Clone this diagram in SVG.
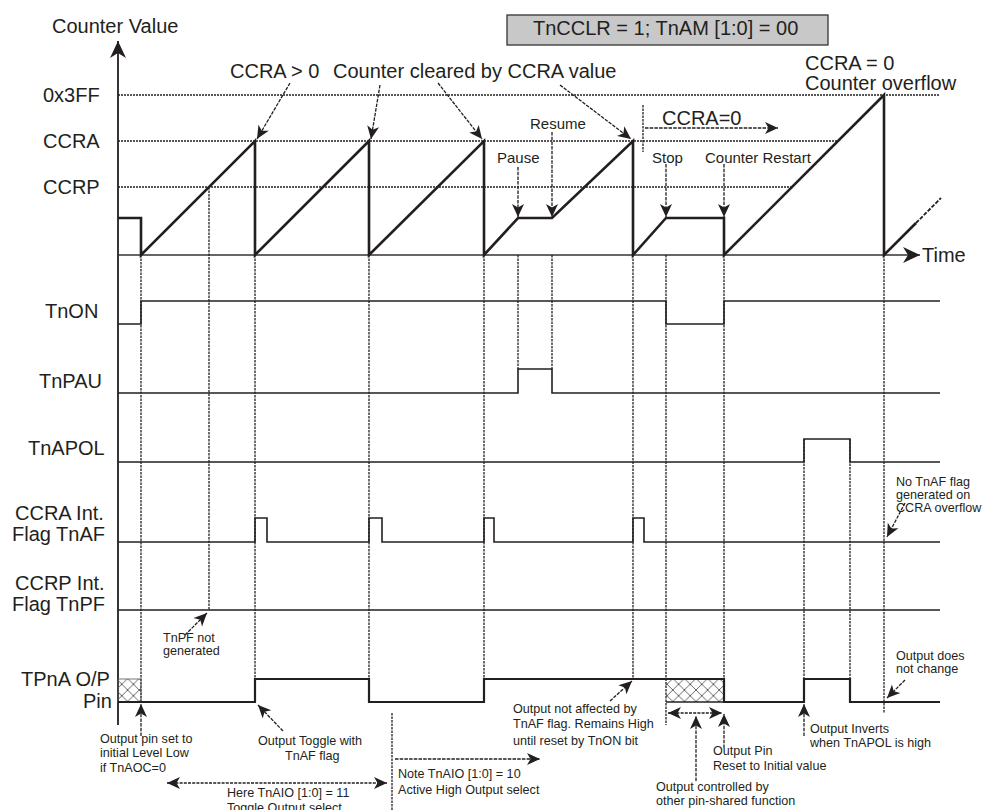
<svg xmlns="http://www.w3.org/2000/svg" width="982" height="810" viewBox="0 0 982 810">
<style>
text{font-family:"Liberation Sans",Arial,sans-serif;fill:#231f20}
.big{font-size:20px}
.med{font-size:15px}
.sm{font-size:12.6px}
.ref{stroke:#231f20;stroke-width:1.3;stroke-dasharray:2,1;fill:none}
.vd{stroke:#231f20;stroke-width:1.3;stroke-dasharray:2.5,1;fill:none}
.sig{stroke:#231f20;stroke-width:1.6;fill:none}
.cnt{stroke:#231f20;stroke-width:2.6;fill:none;stroke-linejoin:miter}
.ann{stroke:#231f20;stroke-width:1.3;stroke-dasharray:3.5,1.2;fill:none;marker-end:url(#ah)}
.dbl{stroke:#231f20;stroke-width:1.3;stroke-dasharray:3,1.2;fill:none;marker-end:url(#ah);marker-start:url(#ahs)}
</style>
<defs>
<marker id="ah" viewBox="-14 -7 15 14" refX="0" refY="0" markerWidth="15" markerHeight="14" markerUnits="userSpaceOnUse" orient="auto">
<path d="M0,0 L-13,-6 L-9.5,0 L-13,6 z" fill="#231f20"/>
</marker>
<marker id="ahs" viewBox="-14 -7 15 14" refX="0" refY="0" markerWidth="15" markerHeight="14" markerUnits="userSpaceOnUse" orient="auto-start-reverse">
<path d="M0,0 L-13,-6 L-9.5,0 L-13,6 z" fill="#231f20"/>
</marker>
<marker id="big" viewBox="-18 -9 19 18" refX="0" refY="0" markerWidth="19" markerHeight="18" markerUnits="userSpaceOnUse" orient="auto">
<path d="M0,0 L-17,-8 L-12,0 L-17,8 z" fill="#231f20"/>
</marker>
<pattern id="hatch" patternUnits="userSpaceOnUse" width="11.6" height="11.5">
<path d="M0,0 L11.6,11.5 M11.6,0 L0,11.5" stroke="#555" stroke-width="0.9"/>
</pattern>
</defs>

<g id="mode-box">
<rect x="507" y="15" width="321" height="30" fill="#c8c8c8" stroke="#333" stroke-width="1.3"/>
<text class="big" x="533" y="35">TnCCLR = 1; TnAM [1:0] = 00</text>
</g>

<g id="axes">
<line x1="118" y1="725" x2="118" y2="41" stroke="#231f20" stroke-width="1.8" marker-end="url(#big)"/>
<line x1="118" y1="255" x2="920" y2="255" stroke="#333" stroke-width="1.6" marker-end="url(#big)"/>
<text class="big" x="52" y="33">Counter Value</text>
<text class="big" x="922" y="262">Time</text>
</g>

<g id="reference-levels">
<line class="ref" x1="118" y1="95" x2="940" y2="95"/>
<line class="ref" x1="118" y1="141" x2="838" y2="141"/>
<line class="ref" x1="118" y1="187" x2="792" y2="187"/>
<text class="big" x="43" y="102">0x3FF</text>
<text class="big" x="43" y="148">CCRA</text>
<text class="big" x="43" y="194">CCRP</text>
</g>

<g id="signal-labels">
<text class="big" x="45" y="318">TnON</text>
<text class="big" x="39" y="388">TnPAU</text>
<text class="big" x="28" y="455">TnAPOL</text>
<text class="big" x="15" y="520">CCRA Int.</text>
<text class="big" x="12" y="541">Flag TnAF</text>
<text class="big" x="15" y="590">CCRP Int.</text>
<text class="big" x="12" y="611">Flag TnPF</text>
<text class="big" x="21" y="686">TPnA O/P</text>
<text class="big" x="83" y="708">Pin</text>
</g>

<g id="time-markers">
<line class="vd" x1="141" y1="255" x2="141" y2="702"/>
<line class="vd" x1="209" y1="187" x2="209" y2="610"/>
<line class="vd" x1="255" y1="255" x2="255" y2="679"/>
<line class="vd" x1="369" y1="255" x2="369" y2="679"/>
<line class="vd" x1="484" y1="255" x2="484" y2="679"/>
<line class="vd" x1="518" y1="255" x2="518" y2="369"/>
<line class="vd" x1="552" y1="255" x2="552" y2="369"/>
<line class="vd" x1="633" y1="255" x2="633" y2="679"/>
<line class="vd" x1="666" y1="255" x2="666" y2="725"/>
<line class="vd" x1="724" y1="255" x2="724" y2="679"/>
<line class="vd" x1="804" y1="439" x2="804" y2="679"/>
<line class="vd" x1="850" y1="439" x2="850" y2="702"/>
<line class="vd" x1="884" y1="255" x2="884" y2="713"/>
<line class="vd" x1="392" y1="713" x2="392" y2="810"/>
<line class="vd" x1="643" y1="105" x2="643" y2="152"/>
</g>

<g id="counter">
<path class="cnt" d="M118,218 H141 V255 L255,141 V255 L369,141 V255 L484,141 V255 L518,218 H552 L633,141 V255 L666,218 H724 V255 L884,95 V255 L916,223"/>
<path d="M916,223 L941,198" stroke="#231f20" stroke-width="1.8" stroke-dasharray="4,1.5" fill="none"/>
</g>

<g id="signals">
<path class="sig" d="M118,324 H141 V301 H666 V324 H724 V301 H940"/>
<path class="sig" d="M118,393 H518 V369 H552 V393 H940"/>
<path class="sig" d="M118,462 H804 V439 H850 V462 H940"/>
<path class="sig" d="M118,542 H255 V518 H267 V542 H369 V518 H382 V542 H484 V518 H494 V542 H633 V518 H644 V542 H940"/>
<path class="sig" d="M118,610 H940"/>
<rect x="118" y="679" width="23" height="23" fill="url(#hatch)" stroke="#555" stroke-width="0.8"/>
<rect x="666" y="679" width="58" height="23" fill="url(#hatch)" stroke="none"/>
<line x1="666" y1="702" x2="724" y2="702" stroke="#231f20" stroke-width="1.6"/>
<path d="M118,702 H255 V679 H369 V702 H484 V679 H724 V702 H804 V679 H850 V702 H940" stroke="#231f20" stroke-width="2.2" fill="none"/>
</g>

<g id="connectors">
<line class="ann" x1="290" y1="83" x2="257" y2="139"/>
<line class="ann" x1="380" y1="85" x2="371" y2="139"/>
<line class="ann" x1="438" y1="83" x2="482" y2="139"/>
<line class="ann" x1="560" y1="85" x2="631" y2="139"/>
<line class="ann" x1="518" y1="167" x2="518" y2="217"/>
<line class="ann" x1="552" y1="132" x2="552" y2="217"/>
<line class="ann" x1="666" y1="164" x2="666" y2="217"/>
<line class="ann" x1="724" y1="164" x2="724" y2="217"/>
<line class="ann" x1="645" y1="128" x2="778" y2="128"/>
<line class="ann" x1="185" y1="635" x2="207" y2="613"/>
<line class="ann" x1="141" y1="736" x2="141" y2="704"/>
<line class="ann" x1="283" y1="731" x2="258" y2="705"/>
<line class="dbl" x1="167" y1="783" x2="387" y2="783"/>
<line class="ann" x1="395" y1="759" x2="540" y2="759"/>
<line class="ann" x1="610" y1="701" x2="632" y2="681"/>
<line class="ann" x1="905" y1="503" x2="887" y2="537"/>
<line class="ann" x1="905" y1="680" x2="887" y2="698"/>
<line class="dbl" x1="668" y1="713" x2="722" y2="713"/>
<line class="ann" x1="696" y1="781" x2="696" y2="716"/>
<line class="ann" x1="724" y1="748" x2="724" y2="714"/>
<line class="ann" x1="804" y1="736" x2="804" y2="704"/>
</g>

<g id="labels">
<text class="big" x="230" y="78">CCRA &gt; 0</text>
<text class="big" x="333" y="78">Counter cleared by CCRA value</text>
<text class="big" x="805" y="70">CCRA = 0</text>
<text class="big" x="805" y="90">Counter overflow</text>
<text class="big" x="662" y="125">CCRA=0</text>
<text class="med" x="530" y="129">Resume</text>
<text class="med" x="497" y="163">Pause</text>
<text class="med" x="652" y="163">Stop</text>
<text class="med" x="705" y="163">Counter Restart</text>
<text class="sm" x="163" y="642">TnPF not</text>
<text class="sm" x="163" y="655">generated</text>
<text class="sm" x="100" y="743">Output pin set to</text>
<text class="sm" x="100" y="757">initial Level Low</text>
<text class="sm" x="100" y="772">if TnAOC=0</text>
<text class="sm" x="258" y="745">Output Toggle with</text>
<text class="sm" x="285" y="760">TnAF flag</text>
<text class="sm" x="227" y="797">Here TnAIO [1:0] = 11</text>
<text class="sm" x="227" y="812">Toggle Output select</text>
<text class="sm" x="398" y="778">Note TnAIO [1:0] = 10</text>
<text class="sm" x="398" y="794">Active High Output select</text>
<text class="sm" x="513" y="713">Output not affected by</text>
<text class="sm" x="513" y="728">TnAF flag. Remains High</text>
<text class="sm" x="513" y="745">until reset by TnON bit</text>
<text class="sm" x="896" y="486">No TnAF flag</text>
<text class="sm" x="896" y="499">generated on</text>
<text class="sm" x="896" y="512">CCRA overflow</text>
<text class="sm" x="896" y="660">Output does</text>
<text class="sm" x="896" y="673">not change</text>
<text class="sm" x="656" y="791">Output controlled by</text>
<text class="sm" x="656" y="805">other pin-shared function</text>
<text class="sm" x="713" y="755">Output Pin</text>
<text class="sm" x="713" y="770">Reset to Initial value</text>
<text class="sm" x="810" y="733">Output Inverts</text>
<text class="sm" x="810" y="747">when TnAPOL is high</text>
</g>
</svg>
